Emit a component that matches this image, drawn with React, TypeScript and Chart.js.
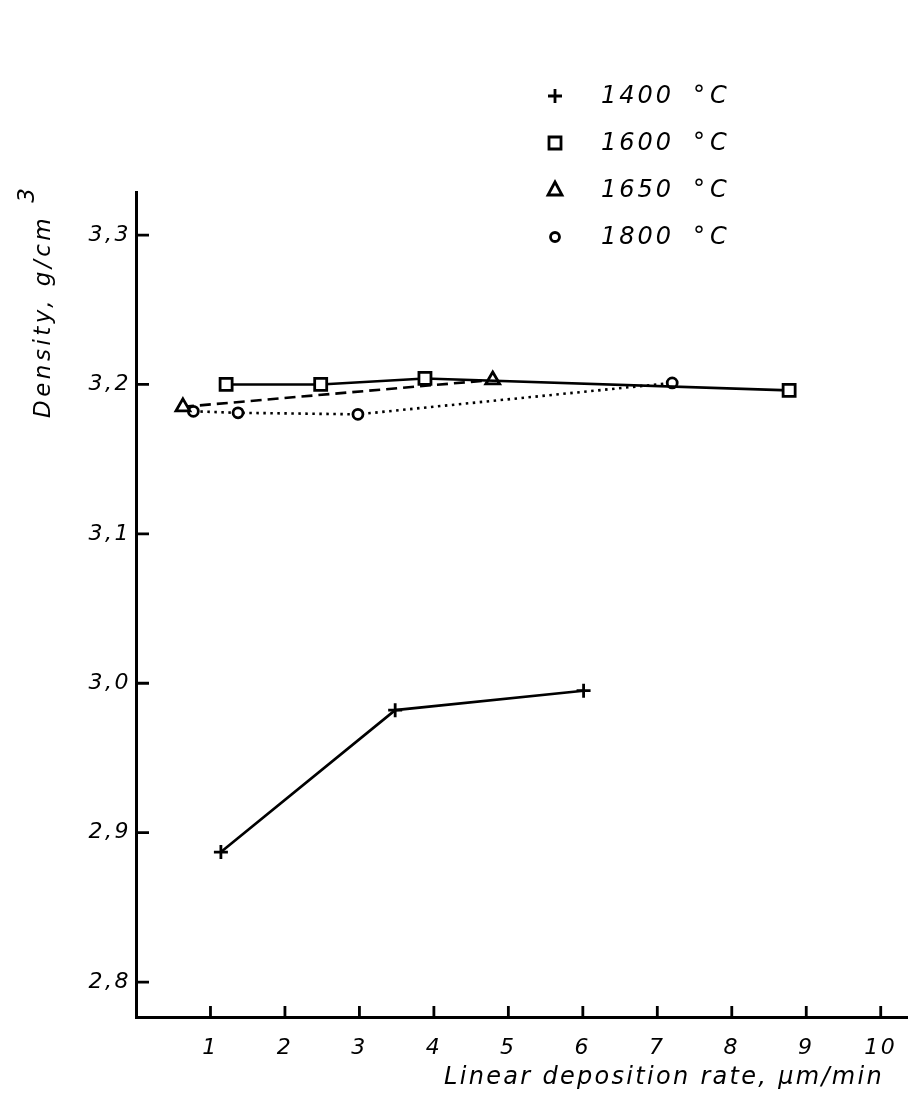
import React, { useEffect, useRef } from 'react';
import { Chart, registerables } from 'chart.js';

Chart.register(...registerables);

// ---- data ----
const seriesLabels = ['1400 °C', '1600 °C', '1650 °C', '1800 °C'];
const rate1400 = [1.14, 3.48, 6.01];
const density1400 = [2.887, 2.982, 2.995];
const rate1600 = [1.21, 2.48, 3.88, 8.77];
const density1600 = [3.2, 3.2, 3.204, 3.196];
const rate1650 = [0.63, 4.79];
const density1650 = [3.185, 3.203];
const rate1800 = [0.77, 1.37, 2.98, 7.2];
const density1800 = [3.182, 3.181, 3.18, 3.201];
const xTickValues = [1, 2, 3, 4, 5, 6, 7, 8, 9, 10];
const yTickValues = [2.8, 2.9, 3.0, 3.1, 3.2, 3.3];
const xTitle = 'Linear deposition rate, μm/min';
const yTitle = 'Density, g/cm';
const yTitleSup = '3';

const FONT = '"DejaVu Sans", "Liberation Sans", sans-serif';

const toPoints = (xs: number[], ys: number[]) => xs.map((x, i) => ({ x, y: ys[i] }));

function drawMarker(ctx: CanvasRenderingContext2D, style: string, x: number, y: number) {
  ctx.save();
  ctx.strokeStyle = '#000';
  ctx.fillStyle = '#fff';
  ctx.lineWidth = 2.8;
  ctx.beginPath();
  if (style === 'cross') {
    ctx.moveTo(x - 7, y); ctx.lineTo(x + 7, y);
    ctx.moveTo(x, y - 7); ctx.lineTo(x, y + 7);
    ctx.stroke();
  } else if (style === 'rect') {
    ctx.rect(x - 6, y - 6, 12, 12);
    ctx.fill(); ctx.stroke();
  } else if (style === 'triangle') {
    ctx.moveTo(x, y - 8); ctx.lineTo(x + 7, y + 5); ctx.lineTo(x - 7, y + 5); ctx.closePath();
    ctx.fill(); ctx.stroke();
  } else {
    ctx.arc(x, y, 4.5, 0, Math.PI * 2);
    ctx.fill(); ctx.stroke();
  }
  ctx.restore();
}

const decorPlugin = {
  id: 'decor',
  beforeDraw(chart: any) {
    const ctx = chart.ctx as any;
    ctx.save();
    ctx.fillStyle = '#fff';
    ctx.fillRect(0, 0, chart.width, chart.height);
    ctx.restore();
    ctx.letterSpacing = '2.5px';
  },
  afterDraw(chart: any) {
    const ctx = chart.ctx as any;
    const xs = chart.scales.x;
    const ys = chart.scales.y;
    const area = chart.chartArea;
    ctx.save();
    ctx.letterSpacing = '0px';
    // inward tick marks
    ctx.strokeStyle = '#000';
    ctx.lineWidth = 2.8;
    ctx.beginPath();
    yTickValues.forEach((v) => {
      const py = ys.getPixelForValue(v);
      ctx.moveTo(area.left, py);
      ctx.lineTo(area.left + 13, py);
    });
    xTickValues.forEach((v) => {
      const px = xs.getPixelForValue(v);
      ctx.moveTo(px, area.bottom);
      ctx.lineTo(px, area.bottom - 11);
    });
    ctx.stroke();
    // small continuation of the x axis line past the last value
    ctx.lineWidth = 3;
    ctx.beginPath();
    ctx.moveTo(area.right - 6, Math.round(area.bottom) + 0.5);
    ctx.lineTo(908, Math.round(area.bottom) + 0.5);
    ctx.stroke();

    ctx.fillStyle = '#000';
    // x title
    ctx.font = `oblique 24px ${FONT}`;
    ctx.letterSpacing = '2.3px';
    ctx.textAlign = 'right';
    ctx.textBaseline = 'middle';
    ctx.fillText(xTitle, 884, 1078);

    // y title
    ctx.save();
    ctx.translate(44, 418);
    ctx.rotate(-Math.PI / 2);
    ctx.textAlign = 'left';
    ctx.font = `oblique 23px ${FONT}`;
    ctx.letterSpacing = '3.5px';
    ctx.fillText(yTitle, 0, 0);
    const w = ctx.measureText(yTitle).width;
    ctx.fillText(yTitleSup, w + 12, -16);
    ctx.restore();

    // legend
    const styles = ['cross', 'rect', 'triangle', 'circle'];
    const rowsY = [96, 143, 190, 237];
    chart.data.datasets.forEach((ds: any, i: number) => {
      drawMarker(ctx, styles[i], 555, rowsY[i]);
      const parts = String(ds.label).split(' ');
      ctx.font = `oblique 24px ${FONT}`;
      ctx.letterSpacing = '3px';
      ctx.textAlign = 'left';
      ctx.textBaseline = 'middle';
      ctx.fillText(parts[0], 601, rowsY[i] + 1);
      ctx.letterSpacing = '5px';
      ctx.fillText(parts[1], 693, rowsY[i] + 1);
    });
    ctx.restore();
    ctx.letterSpacing = '0px';
  },
};

export default function App() {
  const ref = useRef<HTMLCanvasElement | null>(null);

  useEffect(() => {
    if (!ref.current) return;
    const common = {
      showLine: true,
      borderColor: '#000',
      pointBorderColor: '#000',
      pointBackgroundColor: '#fff',
      borderWidth: 2.6,
      pointBorderWidth: 2.8,
      tension: 0,
    };
    const chart = new Chart(ref.current, {
      type: 'scatter',
      data: {
        datasets: [
          { ...common, label: seriesLabels[0], data: toPoints(rate1400, density1400), pointStyle: 'cross', pointRadius: 7 },
          { ...common, label: seriesLabels[1], data: toPoints(rate1600, density1600), pointStyle: 'rect', pointRadius: 8.5 },
          { ...common, label: seriesLabels[2], data: toPoints(rate1650, density1650), pointStyle: 'triangle', pointRadius: 8, borderDash: [11, 6] },
          { ...common, label: seriesLabels[3], data: toPoints(rate1800, density1800), pointStyle: 'circle', pointRadius: 5, borderDash: [2.5, 4.5] },
        ],
      },
      options: {
        responsive: false,
        animation: false,
        devicePixelRatio: 1,
        layout: { padding: { top: 192, right: 0, left: 0, bottom: 0 } },
        plugins: { legend: { display: false }, tooltip: { enabled: false }, title: { display: false } },
        scales: {
          x: {
            type: 'linear',
            min: 0,
            max: 10.25,
            afterBuildTicks: (scale: any) => { scale.ticks = xTickValues.map((v) => ({ value: v })); },
            afterFit: (scale: any) => { scale.height = 81; },
            ticks: {
              color: '#000',
              font: { family: FONT, size: 22, style: 'oblique' },
              padding: 18,
              maxRotation: 0,
              autoSkip: false,
              callback: (v: any) => String(v),
            },
            grid: { display: false, drawTicks: false },
            border: { display: true, color: '#000', width: 3 },
          },
          y: {
            type: 'linear',
            min: 2.7766,
            max: 3.3288,
            afterBuildTicks: (scale: any) => { scale.ticks = yTickValues.map((v) => ({ value: v })); },
            afterFit: (scale: any) => { scale.width = 136; },
            ticks: {
              color: '#000',
              font: { family: FONT, size: 22, style: 'oblique' },
              padding: 5,
              autoSkip: false,
              callback: (v: any) => Number(v).toFixed(1).replace('.', ','),
            },
            grid: { display: false, drawTicks: false },
            border: { display: true, color: '#000', width: 3 },
          },
        },
      },
      plugins: [decorPlugin],
    });
    return () => chart.destroy();
  }, []);

  return (
    <div style={{ position: 'absolute', left: 0, top: 0, width: 913, height: 1098 }}>
      <canvas ref={ref} width={913} height={1098} style={{ display: 'block' }} />
    </div>
  );
}
